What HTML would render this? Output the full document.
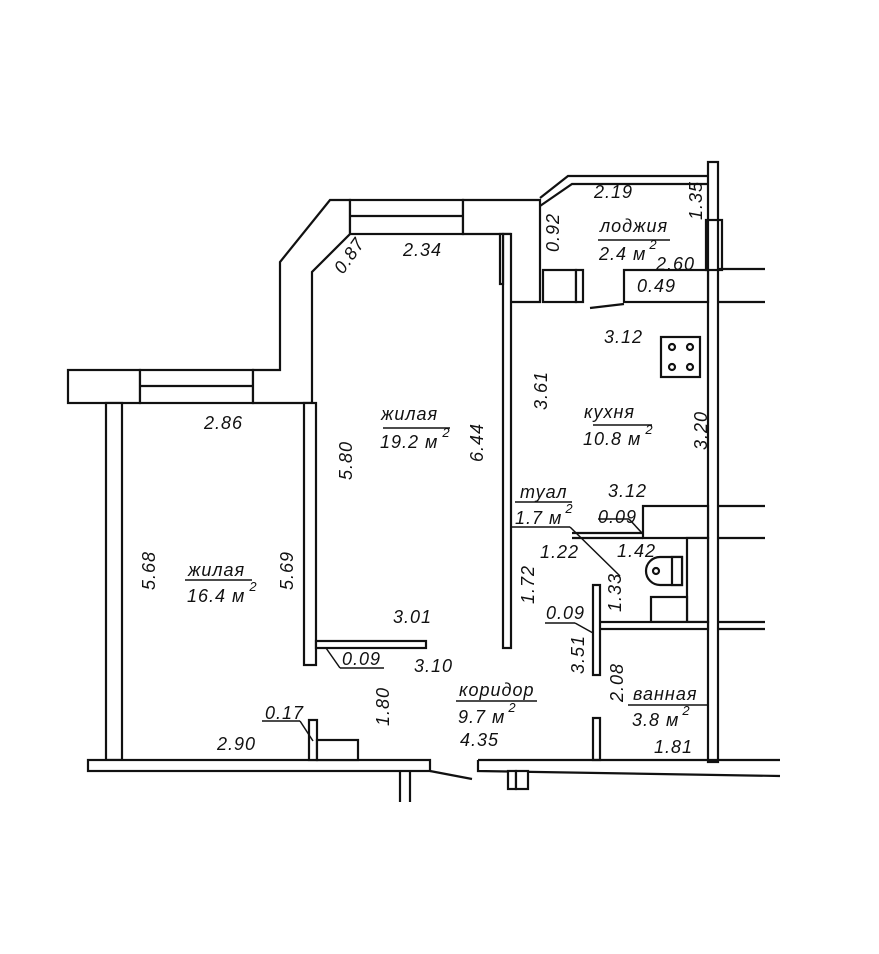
<!DOCTYPE html>
<html><head><meta charset="utf-8"><style>
html,body{margin:0;padding:0;background:#fff;}
svg{display:block;}
text{font-family:"Liberation Sans","DejaVu Sans",sans-serif;font-style:italic;font-size:18px;letter-spacing:1px;fill:#111;}
.s{font-size:13px;}
</style></head><body>
<svg width="879" height="954" viewBox="0 0 879 954" xmlns="http://www.w3.org/2000/svg">
<g fill="#fff" stroke="#111" stroke-width="2.2">
<rect x="68" y="370" width="72" height="33"/>
<rect x="140" y="370" width="113" height="33"/>
<line x1="140" y1="386" x2="253" y2="386"/>
<path d="M253,370 L280,370 L280,262 L330,200 L350,200 L350,234 L312,272 L312,403 L253,403 Z"/>
<rect x="350" y="200" width="113" height="34"/>
<line x1="350" y1="216" x2="463" y2="216"/>
<path d="M463,200 L540,200 L540,302 L510,302 L510,234 L463,234 Z"/>
<rect x="106" y="403" width="16" height="357"/>
<rect x="304" y="403" width="12" height="262"/>
<rect x="316" y="641" width="110" height="7"/>
<rect x="503" y="234" width="8" height="414"/>
<rect x="500" y="234" width="3" height="50"/>
<path d="M540,198 L568,176 L710,176" fill="none"/>
<path d="M540,206 L572,184 L710,184" fill="none"/>
<rect x="708" y="162" width="10" height="600"/>
<rect x="543" y="270" width="33" height="32"/>
<rect x="576" y="270" width="7" height="32"/>
<rect x="624" y="270" width="84" height="32"/>
<line x1="718" y1="269" x2="765" y2="269"/>
<line x1="718" y1="302" x2="765" y2="302"/>
<rect x="706" y="220" width="16" height="50" fill="none"/>
<line x1="590" y1="308" x2="624" y2="304"/>
<rect x="661" y="337" width="39" height="40"/>
<circle cx="672" cy="347" r="3"/><circle cx="690" cy="347" r="3"/>
<circle cx="672" cy="367" r="3"/><circle cx="690" cy="367" r="3"/>
<rect x="643" y="506" width="65" height="32"/>
<line x1="718" y1="506" x2="765" y2="506"/>
<line x1="718" y1="538" x2="765" y2="538"/>
<line x1="572" y1="533" x2="643" y2="533"/>
<line x1="572" y1="538" x2="643" y2="538"/>
<rect x="687" y="538" width="21" height="84"/>
<path d="M660,557 L682,557 L682,585 L660,585 A14,14 0 0 1 660,557 Z"/>
<rect x="672" y="557" width="10" height="28"/>
<circle cx="656" cy="571" r="3"/>
<rect x="651" y="597" width="36" height="25"/>
<rect x="597" y="622" width="111" height="7"/>
<line x1="718" y1="622" x2="765" y2="622"/>
<line x1="718" y1="629" x2="765" y2="629"/>
<rect x="593" y="585" width="7" height="90"/>
<rect x="593" y="718" width="7" height="42"/>
<rect x="88" y="760" width="342" height="11"/>
<path d="M478,760 L780,760 M478,760 L478,771 L780,776" fill="none"/>
<rect x="309" y="720" width="8" height="40"/>
<rect x="317" y="740" width="41" height="20"/>
<line x1="400" y1="771" x2="400" y2="802"/>
<line x1="410" y1="771" x2="410" y2="802"/>
<line x1="430" y1="771" x2="472" y2="779"/>
<rect x="508" y="771" width="8" height="18"/>
<rect x="516" y="771" width="12" height="18"/>
</g>
<g stroke="#111" stroke-width="1.5" fill="none">
<line x1="383" y1="428" x2="450" y2="428"/>
<line x1="185" y1="580" x2="252" y2="580"/>
<line x1="598" y1="240" x2="670" y2="240"/>
<line x1="593" y1="425" x2="652" y2="425"/>
<line x1="515" y1="502" x2="572" y2="502"/>
<line x1="512" y1="527" x2="570" y2="527"/>
<line x1="570" y1="527" x2="620" y2="576"/>
<line x1="598" y1="519" x2="629" y2="519"/><line x1="629" y1="519" x2="642" y2="533"/>
<line x1="545" y1="623" x2="575" y2="623"/><line x1="575" y1="623" x2="593" y2="633"/>
<line x1="326" y1="648" x2="340" y2="668"/><line x1="340" y1="668" x2="384" y2="668"/>
<line x1="262" y1="721" x2="300" y2="721"/><line x1="300" y1="721" x2="313" y2="741"/>
<line x1="456" y1="701" x2="537" y2="701"/>
<line x1="628" y1="705" x2="708" y2="705"/>
</g>
<text x="600" y="232">лоджия</text>
<text x="599" y="260">2.4 м<tspan class="s" dx="3" dy="-11">2</tspan></text>
<text x="594" y="198">2.19</text>
<text x="656" y="270">2.60</text>
<text x="637" y="292">0.49</text>
<text x="604" y="343">3.12</text>
<text x="403" y="256">2.34</text>
<text x="381" y="420">жилая</text>
<text x="380" y="448">19.2 м<tspan class="s" dx="4" dy="-11">2</tspan></text>
<text x="584" y="418">кухня</text>
<text x="583" y="445">10.8 м<tspan class="s" dx="4" dy="-11">2</tspan></text>
<text x="204" y="429">2.86</text>
<text x="188" y="576">жилая</text>
<text x="187" y="602">16.4 м<tspan class="s" dx="4" dy="-11">2</tspan></text>
<text x="520" y="498">туал</text>
<text x="515" y="524">1.7 м<tspan class="s" dx="3" dy="-11">2</tspan></text>
<text x="608" y="497">3.12</text>
<text x="598" y="523">0.09</text>
<text x="540" y="558">1.22</text>
<text x="617" y="557">1.42</text>
<text x="546" y="619">0.09</text>
<text x="393" y="623">3.01</text>
<text x="342" y="665">0.09</text>
<text x="414" y="672">3.10</text>
<text x="459" y="696">коридор</text>
<text x="458" y="723">9.7 м<tspan class="s" dx="3" dy="-11">2</tspan></text>
<text x="460" y="746">4.35</text>
<text x="633" y="700">ванная</text>
<text x="632" y="726">3.8 м<tspan class="s" dx="3" dy="-11">2</tspan></text>
<text x="654" y="753">1.81</text>
<text x="265" y="719">0.17</text>
<text x="217" y="750">2.90</text>
<g>
<text transform="translate(343,275) rotate(-55)">0.87</text>
<text transform="translate(559,252) rotate(-90)">0.92</text>
<text transform="translate(702,220) rotate(-90)">1.35</text>
<text transform="translate(547,410) rotate(-90)">3.61</text>
<text transform="translate(483,462) rotate(-90)">6.44</text>
<text transform="translate(707,450) rotate(-90)">3.20</text>
<text transform="translate(352,480) rotate(-90)">5.80</text>
<text transform="translate(155,590) rotate(-90)">5.68</text>
<text transform="translate(293,590) rotate(-90)">5.69</text>
<text transform="translate(534,604) rotate(-90)">1.72</text>
<text transform="translate(621,612) rotate(-90)">1.33</text>
<text transform="translate(584,674) rotate(-90)">3.51</text>
<text transform="translate(623,702) rotate(-90)">2.08</text>
<text transform="translate(389,726) rotate(-90)">1.80</text>
</g>
</svg>
</body></html>
